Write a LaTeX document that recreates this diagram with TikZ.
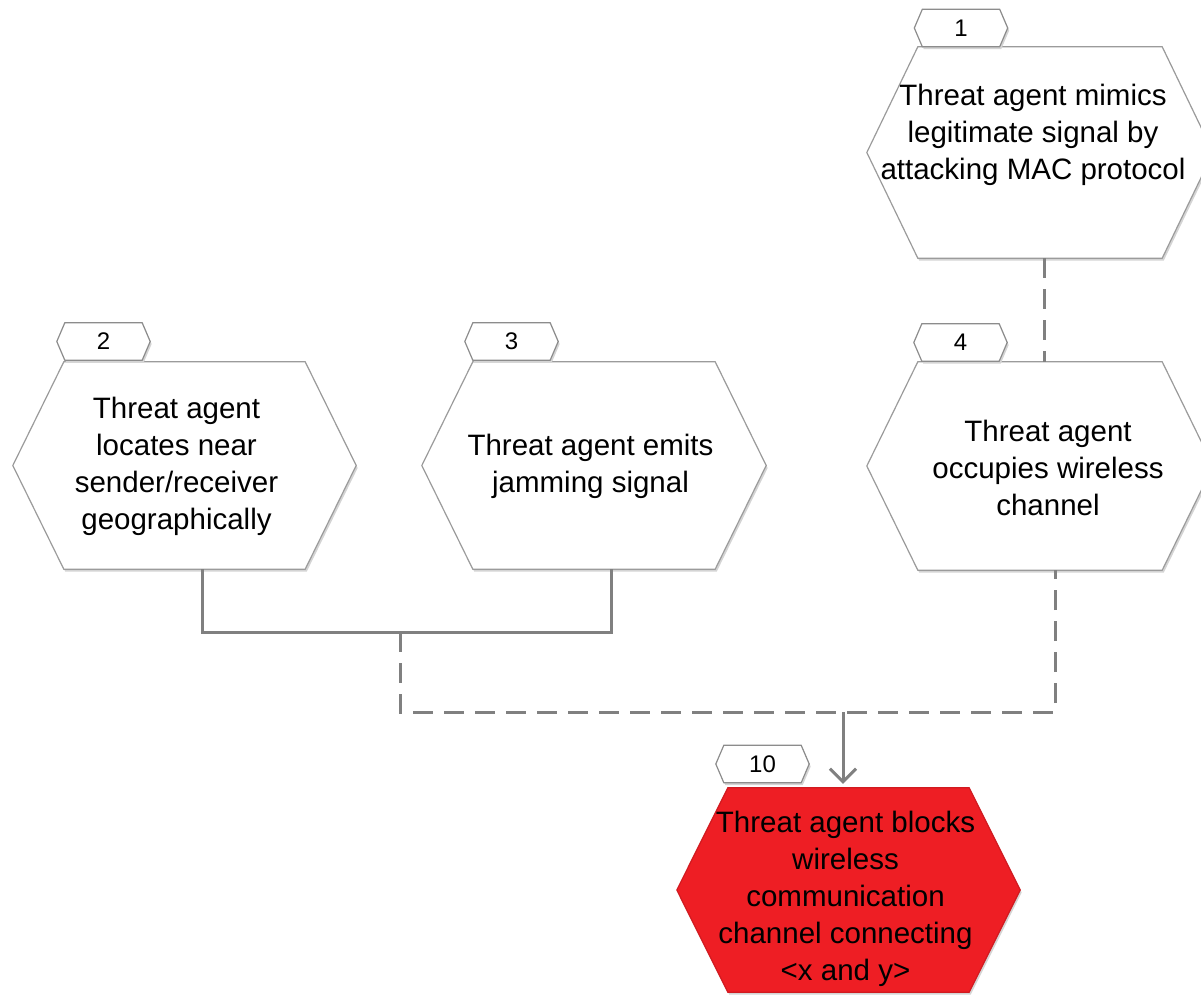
\documentclass[tikz,border=0pt]{standalone}
\usepackage{fontspec}
\setmainfont{Liberation Sans}
\usetikzlibrary{backgrounds,arrows.meta}

\definecolor{edgegray}{RGB}{155,155,155}
\definecolor{tabgray}{RGB}{140,140,140}
\definecolor{linkgray}{RGB}{128,128,128}
\definecolor{alertred}{RGB}{238,30,36}
\definecolor{shadowgray}{RGB}{212,212,212}

% hexagon outline around a rectangular node; #2 = horizontal inset of the slanted sides
\newcommand\hexshape[3]{%
  \begin{scope}[on background layer]
    \fill[shadowgray, transform canvas={xshift=1.5pt,yshift=-2.5pt}]
      ([xshift=#2]#1.north west) -- ([xshift=-#2]#1.north east) -- (#1.east)
      -- ([xshift=-#2]#1.south east) -- ([xshift=#2]#1.south west) -- (#1.west) -- cycle;
    \path[#3]
      ([xshift=#2]#1.north west) -- ([xshift=-#2]#1.north east) -- (#1.east)
      -- ([xshift=-#2]#1.south east) -- ([xshift=#2]#1.south west) -- (#1.west) -- cycle;
  \end{scope}}

% centred block of lines; #1 = twice the horizontal offset, #2 = lift
\newcommand\hexlines[3]{%
  \raisebox{#2}[0pt][0pt]{\makebox[0pt]{\hspace*{#1}\begin{tabular}{@{}c@{}}#3\end{tabular}}}}

\begin{document}
\begin{tikzpicture}[x=1pt,y=-1pt,
  hexbox/.style 2 args={shape=rectangle, minimum width=#1pt, minimum height=#2pt,
    inner sep=0pt, font=\fontsize{29.5}{37}\selectfont},
  tabbox/.style={shape=rectangle, minimum width=93pt, minimum height=37pt,
    inner sep=0pt, font=\fontsize{24}{28}\selectfont},
  hexedge/.style={fill=white, draw=edgegray, line width=1.2pt},
  alertedge/.style={fill=alertred, draw=alertred!88!black, line width=1.2pt},
  tabedge/.style={fill=white, draw=tabgray, line width=1.2pt},
  linkline/.style={draw=linkgray, line width=3pt},
  dashlink/.style={linkline, dash pattern=on 20pt off 11pt},
  arrowlink/.style={linkline, -{Straight Barb[length=13pt,width=26pt]}}
]
\useasboundingbox (0,0) rectangle (1201,996);

% step boxes
\node[hexbox={346}{211}] (h1) at (1040,152.5)
  {\hexlines{-14pt}{11.5pt}{Threat agent mimics\\legitimate signal by\\attacking MAC protocol}};
\node[hexbox={343}{207}] (h2) at (184.5,465.5)
  {\hexlines{-16pt}{-7pt}{Threat agent\\locates near\\sender/receiver\\geographically}};
\node[hexbox={344}{207}] (h3) at (594,465.5)
  {\hexlines{-7pt}{-7pt}{Threat agent emits\\jamming  signal}};
\node[hexbox={346}{208}] (h4) at (1040,466)
  {\hexlines{16pt}{-11pt}{Threat agent\\occupies wireless\\channel}};
\node[hexbox={343}{204}] (h10) at (848.5,890)
  {\hexlines{-6pt}{-15pt}{Threat agent blocks\\wireless\\communication\\channel  connecting\\{<}x and y{>}}};

% number tabs
\node[tabbox] (t1) at (961,28) {1};
\node[tabbox] (t2) at (103.5,341.5) {2};
\node[tabbox] (t3) at (511.5,341.5) {3};
\node[tabbox] (t4) at (960.5,342.5) {4};
\node[tabbox] (t10) at (762.5,764) {10};

\hexshape{h1}{51pt}{hexedge}
\hexshape{h2}{51pt}{hexedge}
\hexshape{h3}{51pt}{hexedge}
\hexshape{h4}{51pt}{hexedge}
\hexshape{h10}{51pt}{alertedge}
\hexshape{t1}{8pt}{tabedge}
\hexshape{t2}{8pt}{tabedge}
\hexshape{t3}{8pt}{tabedge}
\hexshape{t4}{8pt}{tabedge}
\hexshape{t10}{8pt}{tabedge}

% connectors
\coordinate (j1) at (400,632);
\coordinate (j2) at (843,712);
\draw[linkline] ([xshift=17.5pt]h2.south) |- (j1) -| ([xshift=17pt]h3.south);
\draw[dashlink] (j1) |- (j2) -| ([xshift=15pt]h4.south);
\draw[dashlink] ([xshift=4pt]h1.south) -- ([xshift=4pt]h4.north);
\draw[arrowlink] (j2) -- ([yshift=4pt]j2 |- h10.north);
\end{tikzpicture}
\end{document}
